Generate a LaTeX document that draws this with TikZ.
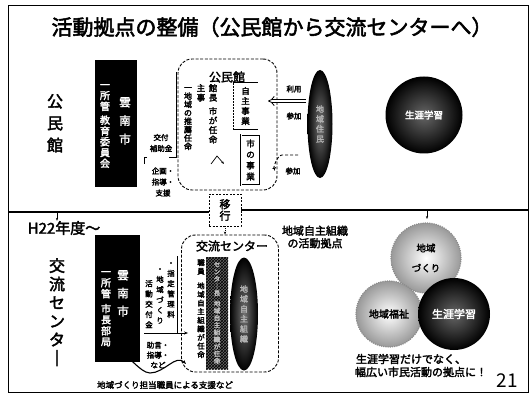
\documentclass[tikz,border=0pt]{standalone}
\usepackage{fontspec}
\setmainfont{Noto Sans CJK JP}
\newfontfamily\jpb{Noto Sans CJK JP}[FakeBold=2.5]
\usetikzlibrary{arrows.meta, positioning, shapes.geometric, calc, patterns}

\newcommand{\fs}[2]{\jpb\fontsize{#1}{#2}\selectfont}

\begin{document}
\begin{tikzpicture}[x=1pt, y=-1pt,
        every node/.style = {align=center, inner sep=0pt},
        vcol/.style   = {anchor=north},
        blk/.style    = {rectangle, fill=black},
        cbox/.style   = {rectangle, draw, rounded corners=14pt, line width=0.9pt,
                         dash pattern=on 3pt off 1.6pt},
        dkell/.style  = {ellipse, inner color=black!55, outer color=black},
        ltball/.style = {circle, inner color=white, outer color=black!40,
                         draw=black!45, densely dotted, line width=1.2pt},
        dkball/.style = {circle, inner color=black!60, outer color=black},
        arrow/.style  = {-{Stealth[length=4pt]}, line width=0.9pt},
        split/.style  = {line width=1.6pt}
    ]
    \useasboundingbox (0,0) rectangle (531,396);

    % --- Frame and title ---
    \node[draw, line width=0.6pt, minimum width=520pt, minimum height=387pt] (frame) at (268,198.5) {};
    \node[font=\fs{21}{24}] (title) at (272,27) {活動拠点の整備（公民館から交流センターへ）};

    % --- Upper half: kominkan ---
    \node[vcol, font=\fs{16}{22}] (lblkmk) at (55,94) {公\\民\\館};

    \node[blk, minimum width=42pt, minimum height=127pt] (cityA) at (116,123.5) {};
    \node[vcol, text=white, font=\fs{11.5}{18.5}] (cityAname) at (125,97) {雲\\南\\市};
    \node[vcol, text=white, font=\fs{10}{10.8}] (cityAdep) at (105,84) {一\\所\\管\\[3pt]教\\育\\委\\員\\会};

    \node[font=\fs{7.5}{11}] (hojo)  at (161,143) {交付\\補助金};
    \node[font=\fs{7.5}{11}] (shien) at (163,182) {企画・\\指導・\\支援};

    \node[cbox, minimum width=99pt, minimum height=131pt] (kmk) at (227.5,124.5) {};
    \node[font=\fs{12}{14}] (kmkttl) at (227,77) {公民館};
    \node[vcol, font=\fs{8.5}{9.5}] (kancho)   at (213,84) {館\\長\\[4pt]市\\が\\任\\命};
    \node[vcol, font=\fs{8.5}{9.5}] (shuji)    at (201,84) {主\\事};
    \node[vcol, font=\fs{8}{8.4}]   (shujinin) at (188,87) {一\\地\\域\\の\\推\\薦\\任\\命};
    \node[minimum width=25pt, minimum height=46pt, font=\fs{8.5}{10}] (jishu) at (245.5,106) {自\\主\\事\\業};
    \node[draw, double, double distance=1pt, minimum width=19pt, minimum height=50pt, font=\fs{8.5}{11}]
        (shijigyo) at (250.5,160) {市\\の\\事\\業};

    \node[dkell, minimum width=25pt, minimum height=108pt, text=black!30, font=\fs{8}{10}] (jumin) at (320,124) {地\\域\\住\\民};
    \node[dkball, minimum size=77pt, text=white, font=\fs{9.5}{10}] (gakushuA) at (424,115) {生涯学習};

    \node[font=\fs{7.5}{9}] (riyo)   at (294,89)  {利用};
    \node[font=\fs{7.5}{9}] (sanka)  at (294,116) {参加};
    \node[font=\fs{7.5}{9}] (sankaB) at (293,171) {参加};

    % brackets and small marks
    \coordinate (hbT) at (176,72);
    \coordinate (hbB) at (176,157);
    \coordinate (hbL) at (169,157);
    \draw[line width=0.8pt] (hbT) -- (hbB) -- (hbL);
    \draw[line width=0.7pt] (147,157) -- (144,157) -- (144,164);
    \draw[line width=0.9pt] (jishu.north west) -- (jishu.north east);
    \draw[line width=0.9pt] (jishu.south west) -- (jishu.south east);
    \draw[densely dotted, line width=0.5pt] (jishu.north west) -- (jishu.south west);
    \coordinate (crA) at (211,164);
    \coordinate (crB) at (217,156);
    \coordinate (crC) at (224,164);
    \draw[-{Stealth[length=3pt]}, line width=0.7pt] (crA) -- (crB) -- (crC);

    % arrows from residents
    \coordinate (useS) at (306,101);
    \coordinate (useE) at (268,101);
    \draw[double, double distance=2.6pt, line width=0.8pt, -{Implies}] (useS) -- (useE);
    \coordinate (joinS) at (298,155);
    \coordinate (joinM) at (282,155);
    \coordinate (joinE) at (276,167);
    \draw[arrow, densely dashed] (joinS) -- (joinM) to[out=180, in=225] (joinE);

    % --- Divider and transition ---
    \node[draw, dash pattern=on 2pt off 1.5pt, line width=0.7pt, minimum width=32pt, minimum height=32pt,
          font=\fs{11}{11.5}] (iko) at (225,210) {移\\行};
    \coordinate (divL) at (8,212);
    \coordinate (divR) at (528,210);
    \draw[split] (divL) -- (iko.west |- divL);
    \draw[split] (iko.east |- divR) -- (divR);

    \node[font=\fs{15}{15}] (h22) at (64,228) {H22年度〜};
    \coordinate (h22a) at (57,213);
    \draw[-{Stealth[length=3pt]}, line width=0.6pt] (h22a) -- (h22a |- h22.north);
    \coordinate (toprA) at (427,210);
    \coordinate (toprB) at (427,219);
    \draw[-{Stealth[length=3pt]}, line width=0.6pt] (toprA) -- (toprB);

    % --- Lower half: community centre ---
    \node[vcol, font=\fs{16}{18.5}] (lblkc) at (57,258) {交\\流\\セ\\ン\\タ\\｜};

    \node[blk, minimum width=45pt, minimum height=127pt] (cityB) at (117.5,298.5) {};
    \node[vcol, text=white, font=\fs{11.5}{18}] (cityBname) at (123,270) {雲\\南\\市};
    \node[vcol, text=white, font=\fs{10}{11}]   (cityBdep)  at (106,271) {一\\所\\管\\[4pt]市\\長\\部\\局};

    \node[vcol, font=\fs{7.5}{10.3}] (kanri) at (171,262) {・\\指\\定\\管\\理\\料};
    \node[vcol, font=\fs{7.5}{10.3}] (zkr)   at (160,268) {・\\地\\域\\づ\\く\\り};
    \node[vcol, font=\fs{7.5}{10.3}] (kofu)  at (149,280) {活\\動\\交\\付\\金};
    \node[font=\fs{7.5}{10}] (jogen) at (158,355) {助言・\\指導・\\など};

    \node[cbox, minimum width=97pt, minimum height=137pt] (kcbox) at (230,303.5) {};
    \node[font=\fs{12}{14}] (kcttl) at (232,246) {交流センター};
    \node[vcol, font=\fs{7.5}{8.6}] (shokuin) at (201,259) {職\\員\\[6pt]地\\域\\自\\主\\組\\織\\が\\任\\命};
    \node[minimum width=22pt, minimum height=112pt, preaction={fill=black!60}, pattern=crosshatch,
          pattern color=black, text=black!25, font=\fs{6.5}{7.2}] (chomei) at (217,313)
          {セ\\ン\\タ\\｜\\長\\[3pt]地\\域\\自\\主\\組\\織\\が\\任\\命};
    \node[dkell, minimum width=28pt, minimum height=113pt, text=black!30, font=\fs{8}{10}] (soshiki) at (244,314) {地\\域\\自\\主\\組\\織};

    \node[font=\fs{11}{12.5}] (kyoten) at (315,237) {地域自主組織\\の活動拠点};

    % funds bracket and arrows into the centre
    \coordinate (fundT) at (177,256);
    \coordinate (fundA) at (177,333);
    \coordinate (fundL) at (144,333);
    \draw[line width=0.8pt] (fundT) -- (fundA) -- (fundL);
    \draw[arrow] (fundA) -- ($(fundA -| kcbox.west)+(7,0)$);
    \coordinate (crvS) at (126,361);
    \coordinate (crvM) at (150,373);
    \coordinate (crvE) at (186,364);
    \draw[arrow, line width=1.1pt] (crvS) to[out=90, in=180] (crvM) to[out=0, in=135] (crvE);
    \draw[densely dotted, line width=0.8pt, -{Stealth[length=3pt]}] (iko.south) -- (iko.south |- kcbox.north);

    \node[font=\fs{8.5}{9}] (tanto) at (165,385) {地域づくり担当職員による支援など};

    % --- Three fields of activity ---
    \node[ltball, minimum size=70pt, font=\fs{9.5}{20}] (zukuri)  at (426,258) {地域\\づくり};
    \node[ltball, minimum size=66pt, font=\fs{10}{12}]  (fukushi) at (389,314) {地域福祉};
    \node[dkball, minimum size=72pt, text=white, font=\fs{11}{12}] (gakushuB) at (454,314) {生涯学習};

    \node[font=\fs{11}{13}] (msg1) at (411,359) {生涯学習だけでなく、};
    \node[font=\fs{11}{13}] (msg2) at (421,372) {幅広い市民活動の拠点に！};
    \node[font=\fontsize{19}{20}\selectfont] (pgno) at (507,381) {21};

\end{tikzpicture}
\end{document}
